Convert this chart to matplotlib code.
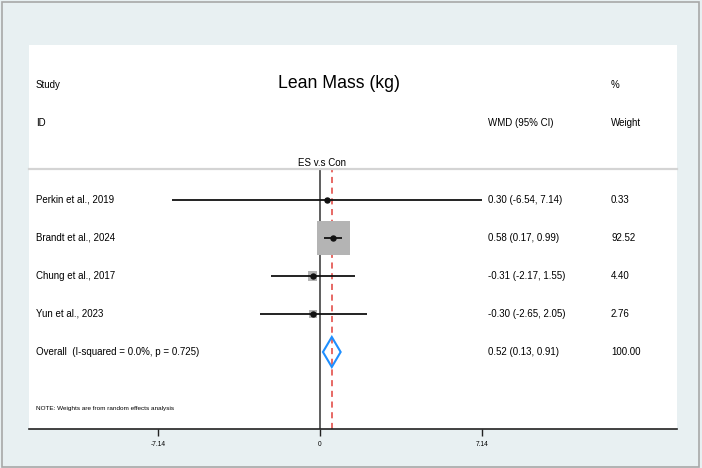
import matplotlib
matplotlib.use("Agg")
import matplotlib.pyplot as plt
from matplotlib.patches import Rectangle, Polygon
from matplotlib.transforms import blended_transform_factory

plt.rcParams['font.family'] = ['Liberation Sans', 'DejaVu Sans']

# ---------------- data ----------------
studies = ["Perkin et al., 2019", "Brandt et al., 2024", "Chung et al., 2017", "Yun et al., 2023"]
es = [0.30, 0.58, -0.31, -0.30]
ci_lo = [-6.54, 0.17, -2.17, -2.65]
ci_hi = [7.14, 0.99, 1.55, 2.05]
weights = [0.33, 92.52, 4.40, 2.76]
overall_label = "Overall  (I-squared = 0.0%, p = 0.725)"
overall_es, overall_lo, overall_hi = 0.52, 0.13, 0.91
overall_weight = 100.00
xticks = [-7.14, 0, 7.14]
xtick_labels = ["-7.14", "0", "7.14"]
title = "Lean Mass (kg)"
group_label = "ES v.s Con"
note = "NOTE: Weights are from random effects analysis"

# ---------------- figure ----------------
W, H = 702, 468
fig = plt.figure(figsize=(W / 100, H / 100), dpi=100)
bg = "#e8f0f2"
fig.patch.set_facecolor(bg)


def fx(x):
    return x / W


def fy(y):
    return (H - y) / H


# outer border
fig.patches.append(Rectangle((fx(1.5), fy(466.5)), fx(699) - fx(1.5), fy(1.5) - fy(466.5),
                             transform=fig.transFigure, fill=False, edgecolor="#a8a8a8",
                             linewidth=1.2, zorder=-2))
# white panel
fig.patches.append(Rectangle((fx(29), fy(429)), fx(677) - fx(29), fy(45) - fy(429),
                             transform=fig.transFigure, facecolor="white", edgecolor="none",
                             zorder=-1))

ax_left, ax_right, ax_top, ax_bottom = 29, 677, 169, 429
ax = fig.add_axes([fx(ax_left), fy(ax_bottom), fx(ax_right) - fx(ax_left), fy(ax_top) - fy(ax_bottom)])
ax.set_zorder(2)
ax.set_facecolor("white")

px_per_unit = 22.69
x0_px = 320
ax.set_xlim((ax_left - x0_px) / px_per_unit, (ax_right - x0_px) / px_per_unit)
row_px = 38.0
first_row_px = 200
ax.set_ylim(1 + (ax_bottom - first_row_px) / row_px, 1 + (ax_top - first_row_px) / row_px)

for s in ["left", "right"]:
    ax.spines[s].set_visible(False)
ax.spines["top"].set_color("#d4d4d4")
ax.spines["top"].set_linewidth(1.6)
ax.spines["bottom"].set_color("#222222")
ax.spines["bottom"].set_linewidth(1.2)
ax.set_yticks([])
ax.set_xticks(xticks)
ax.set_xticklabels(xtick_labels, fontsize=4.8)
ax.tick_params(axis="x", direction="out", length=5, width=1, color="#222222", pad=4)

# null line and overall line
ax.axvline(0, color="#333333", linewidth=1.1, zorder=2)
ax.axvline(overall_es, color="#e0403a", linewidth=1.1, linestyle=(0, (4, 3)), zorder=2)

# boxes scaled by weight (side in pixels: base + k*sqrt(weight))
box_base_px, box_k_px = 2.3, 3.2
rows = list(range(1, len(studies) + 1))
for r, e, lo, hi, w in zip(rows, es, ci_lo, ci_hi, weights):
    side = box_base_px + box_k_px * w ** 0.5
    bw = side / px_per_unit
    bh = side / row_px
    ax.add_patch(Rectangle((e - bw / 2, r - bh / 2), bw, bh, facecolor="#b4b4b4",
                           edgecolor="none", zorder=3))
    ax.plot([lo, hi], [r, r], color="#111111", linewidth=1.3, zorder=4, solid_capstyle="butt")
    ax.plot([e], [r], marker="o", markersize=3.6, color="#111111", zorder=5)

# diamond
r_ov = len(studies) + 1
dh = 15 / row_px
ax.add_patch(Polygon([(overall_lo, r_ov), (overall_es, r_ov - dh), (overall_hi, r_ov),
                      (overall_es, r_ov + dh)], closed=True, fill=False,
                     edgecolor="#1e8fff", linewidth=1.5, zorder=5))

# row texts
tr = blended_transform_factory(fig.transFigure, ax.transData)
fs = 7
for r, name, e, lo, hi, w in zip(rows, studies, es, ci_lo, ci_hi, weights):
    ax.text(fx(36), r, name, transform=tr, fontsize=fs, va="center", ha="left")
    ax.text(fx(488), r, f"{e:.2f} ({lo:.2f}, {hi:.2f})", transform=tr, fontsize=fs,
            va="center", ha="left")
    ax.text(fx(611), r, f"{w:.2f}", transform=tr, fontsize=fs, va="center", ha="left")
ax.text(fx(36), r_ov, overall_label, transform=tr, fontsize=fs, va="center", ha="left")
ax.text(fx(488), r_ov, f"{overall_es:.2f} ({overall_lo:.2f}, {overall_hi:.2f})", transform=tr,
        fontsize=fs, va="center", ha="left")
ax.text(fx(611), r_ov, f"{overall_weight:.2f}", transform=tr, fontsize=fs, va="center", ha="left")

ax.text(fx(36), 1 + (409 - first_row_px) / row_px, note, transform=tr, fontsize=4.6,
        va="center", ha="left")

# header texts
fig.text(fx(36), fy(85), "Study", fontsize=fs, va="center", ha="left")
fig.text(fx(339), fy(83), title, fontsize=12.7, va="center", ha="center")
fig.text(fx(611), fy(85), "%", fontsize=fs, va="center", ha="left")
fig.text(fx(36), fy(123), "ID", fontsize=fs, va="center", ha="left")
fig.text(fx(488), fy(123), "WMD (95% CI)", fontsize=fs, va="center", ha="left")
fig.text(fx(611), fy(123), "Weight", fontsize=fs, va="center", ha="left")
ax.text(0.1, 1 + (163 - first_row_px) / row_px, group_label, fontsize=fs, va="center",
        ha="center", clip_on=False)

fig.savefig("out.png", dpi=100, facecolor=bg)
